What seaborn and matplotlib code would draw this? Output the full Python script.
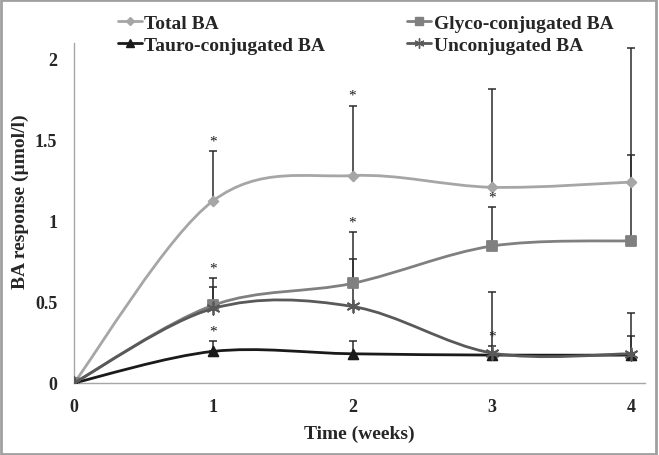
import numpy as np
import pandas as pd
import matplotlib
matplotlib.use("Agg")
import matplotlib.pyplot as plt
from matplotlib.path import Path
from matplotlib.patches import PathPatch, Rectangle
from matplotlib.lines import Line2D
import seaborn as sns

# data
weeks = [0, 1, 2, 3, 4]
total_ba = [0, 1.125, 1.28, 1.208, 1.24]
glyco_ba = [0, 0.48, 0.615, 0.845, 0.878]
tauro_ba = [0, 0.195, 0.18, 0.172, 0.172]
unconj_ba = [0, 0.46, 0.472, 0.185, 0.18]

# top of the error bars (upper SD only)
total_top = [0, 1.43, 1.71, 1.815, 2.07]
glyco_top = [0, 0.646, 0.93, 1.085, 1.41]
tauro_top = [0, 0.257, 0.257, 0.227, 0.29]
unconj_top = [0, 0.59, 0.765, 0.564, 0.43]

# weeks with a significance star, per series
total_sig = [1, 2]
glyco_sig = [1, 2, 3]
tauro_sig = [1, 3]
unconj_sig = []

series = [
    ("Total BA", total_ba, total_top, total_sig, "#A6A6A6", "D", 5),
    ("Glyco-conjugated BA", glyco_ba, glyco_top, glyco_sig, "#808080", "s", 7),
    ("Tauro-conjugated BA", tauro_ba, tauro_top, tauro_sig, "#1A1A1A", "^", 7),
    ("Unconjugated BA", unconj_ba, unconj_top, unconj_sig, "#595959", (6, 2, 0), 9),
]

sns.set_style("white")
plt.rcParams['font.family'] = ['Liberation Serif', 'DejaVu Serif']
plt.rcParams['font.weight'] = 'bold'

fig = plt.figure(figsize=(6.59, 4.56), dpi=100)
ax = fig.add_axes([0.1123, 0.158, 0.8665, 0.746])


def smooth_path(x, y):
    # Excel-style smoothed line: Catmull-Rom through the points as cubic Beziers
    pts = np.column_stack([x, y]).astype(float)
    ext = np.vstack([pts[0], pts, pts[-1]])
    verts = [pts[0]]
    codes = [Path.MOVETO]
    for i in range(len(pts) - 1):
        p0, p1, p2, p3 = ext[i], ext[i + 1], ext[i + 2], ext[i + 3]
        verts += [p1 + (p2 - p0) / 6, p2 - (p3 - p1) / 6, p2]
        codes += [Path.CURVE4] * 3
    return Path(verts, codes)


handles = {}
for k, (name, vals, tops, sig, col, mk, ms) in enumerate(series):
    vals = np.array(vals)
    tops = np.array(tops)
    # error bars
    yerr = np.vstack([np.zeros_like(vals), tops - vals])
    ax.errorbar(weeks[1:], vals[1:], yerr=yerr[:, 1:], fmt="none",
                ecolor="#2b2b2b", elinewidth=1.1, capsize=3, capthick=1.1,
                zorder=2)
    ax.add_patch(PathPatch(smooth_path(weeks, vals), facecolor="none",
                           edgecolor=col, lw=2.0, zorder=3 + k))
    df = pd.DataFrame({"week": weeks, "value": vals})
    sns.scatterplot(data=df, x="week", y="value", marker=mk, s=ms ** 2,
                    color=col, edgecolor=col, linewidth=1.3, ax=ax,
                    zorder=3 + k)
    for w in sig:
        ax.text(w, tops[w] + 0.025, "*", ha="center", va="bottom",
                fontsize=11, fontweight="normal", color="#1a1a1a")
    handles[name] = Line2D([0], [0], color=col, lw=2.0, marker=mk,
                           markersize=ms * 0.8, markeredgecolor=col,
                           label=name)

ax.set_xlim(0, 4.1)
ax.set_ylim(0, 2.1)
ax.set_xticks(weeks)
ax.set_yticks([0, 0.5, 1, 1.5, 2])
ax.set_yticklabels(["0", "0.5", "1", "1.5", "2"])
ax.tick_params(axis="x", direction="out", length=5, color="#a6a6a6",
               labelsize=13, pad=6)
ax.tick_params(axis="y", length=0, labelsize=13, pad=12)
for lab in ax.get_xticklabels() + ax.get_yticklabels():
    lab.set_fontweight("bold")
for s in ["top", "right"]:
    ax.spines[s].set_visible(False)
for s in ["left", "bottom"]:
    ax.spines[s].set_color("#a6a6a6")
    ax.spines[s].set_linewidth(1.0)

ax.set_xlabel("Time (weeks)", fontsize=14, fontweight="bold", labelpad=7)
ax.set_ylabel("BA response (µmol/l)", fontsize=14, fontweight="bold")
ax.yaxis.set_label_coords(-0.078, 0.535)

# legend fills column by column
order = ["Total BA", "Tauro-conjugated BA", "Glyco-conjugated BA",
         "Unconjugated BA"]
fig.legend(handles=[handles[n] for n in order], loc="upper left",
           bbox_to_anchor=(0.152, 1.005), ncol=2, frameon=False,
           handlelength=1.25, handletextpad=0.12, columnspacing=4.2,
           labelspacing=0.25, prop={"weight": "bold", "size": 14})

fig.patches.append(Rectangle((0.002, 0.003), 0.994, 0.994,
                             transform=fig.transFigure, fill=False,
                             edgecolor="#a0a0a0", lw=2.0))

fig.savefig("out.png", dpi=100)
